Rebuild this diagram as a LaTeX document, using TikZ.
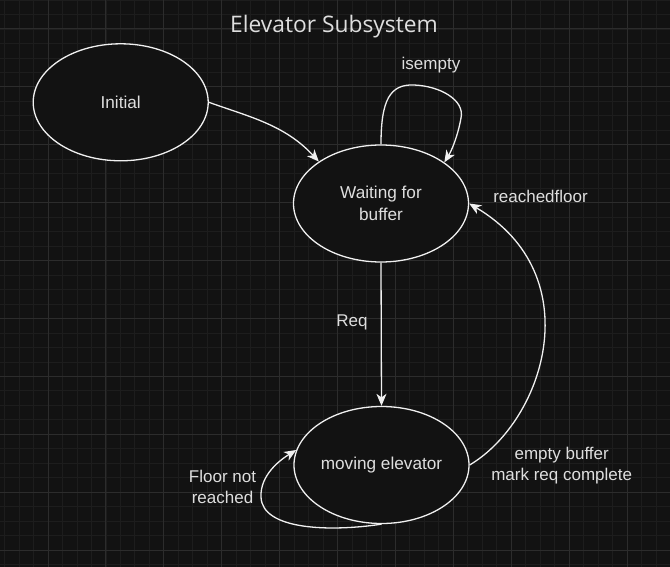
\documentclass[tikz,border=0pt]{standalone}
\usepackage{fontspec}
\setmainfont{Liberation Sans}
\newfontfamily\titlefont{Open Sans}
\usetikzlibrary{arrows.meta,shapes.geometric}
\definecolor{bgc}{RGB}{18,18,18}
\definecolor{minorc}{RGB}{29,29,29}
\definecolor{majorc}{RGB}{44,44,44}
\definecolor{linec}{RGB}{240,240,240}
\definecolor{textc}{RGB}{222,222,222}
\tikzset{
  state/.style={ellipse, draw=linec, line width=1.3pt, fill=bgc, minimum width=175pt, minimum height=117pt, inner sep=0pt, text=textc, align=center, font=\fontsize{17.2}{22}\selectfont},
  lbl/.style={text=textc, align=center, inner sep=0pt, font=\fontsize{17}{21}\selectfont},
  conn/.style={draw=linec, line width=1.3pt, -{Stealth[length=12pt,width=10pt,inset=3.5pt]}},
  minorline/.style={draw=minorc, line width=0.8pt},
  majorline/.style={draw=majorc, line width=1pt}
}
\begin{document}
\begin{tikzpicture}[x=1pt,y=-1pt]
\fill[bgc] (0,0) rectangle (670,567);
\useasboundingbox (0,0) rectangle (670,567);
% grid
\foreach \i in {-3,...,43} { \pgfmathsetmacro\xx{48+\i*14.475} \draw[minorline] (\xx,0) -- (\xx,567); }
\foreach \i in {-2,...,37} { \pgfmathsetmacro\yy{29+\i*14.475} \draw[minorline] (0,\yy) -- (670,\yy); }
\foreach \i in {0,...,10} { \pgfmathsetmacro\xx{48+\i*57.9} \draw[majorline] (\xx,0) -- (\xx,567); }
\foreach \i in {0,...,9} { \pgfmathsetmacro\yy{29+\i*57.9} \draw[majorline] (0,\yy) -- (670,\yy); }

% title
\node[text=textc, inner sep=0pt, font=\titlefont\fontsize{22.8}{26}\selectfont] (title) at (334,27) {Elevator Subsystem};

% states
\node[state] (init) at (120.7,102.3) {Initial};
\node[state] (wait) at (381,203.5) {Waiting for\\buffer};
\node[state] (move) at (381.5,465) {moving elevator};

% connectors
\draw[conn] (init.east) .. controls (250,117) and (285,125) .. (wait.146);
\draw[conn] (wait.north) .. controls (381,100) and (390,84) .. (414,85)
  .. controls (440,86) and (465,100) .. (461,118)
  .. controls (458,135) and (452,150) .. (wait.33);
\draw[conn] (wait.south) -- (move.north);
\draw[conn] (move.east) .. controls (545,420) and (590,275) .. (wait.east);
\draw[conn] (move.south) .. controls (330,532) and (262,530) .. (261,497)
  .. controls (260,475) and (280,460) .. (move.170);

% labels
\node[lbl] (lisempty) at (431,65) {isempty};
\node[lbl] (lreached) at (540.5,196) {reachedfloor};
\node[lbl] (lreq) at (352,322) {Req};
\node[lbl] (lfloor) at (222.5,486.5) {Floor not\\reached};
\node[lbl] (lempty) at (561.7,466) {empty buffer\\mark req complete};
\end{tikzpicture}
\end{document}
